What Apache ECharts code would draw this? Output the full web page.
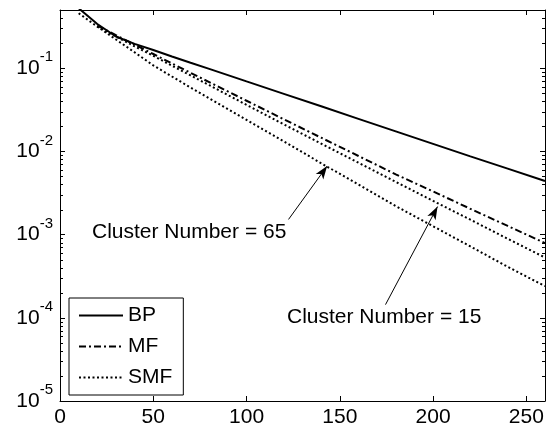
<!DOCTYPE html>
<html>
<head>
<meta charset="utf-8">
<script src="https://cdn.jsdelivr.net/npm/echarts@6/dist/echarts.min.js"></script>
<style>
  html, body { margin: 0; padding: 0; background: #fff; }
  #chart { width: 560px; height: 429px; }
</style>
</head>
<body>
<div id="chart"></div>
<script>
// values
const steps = [10, 20, 30, 40, 50, 60, 70, 80, 100, 120, 140, 160, 180, 200, 220, 240, 260];
const bp = [0.525, 0.339, 0.240, 0.196, 0.165, 0.138, 0.116, 0.098, 0.0693, 0.0491, 0.0348, 0.0246, 0.0174, 0.0123, 0.0087, 0.0062, 0.0044];
const mf = [null, 0.324, 0.249, 0.192, 0.148, 0.114, 0.0879, 0.0679, 0.0406, 0.0243, 0.0146, 0.0088, 0.0053, 0.0033, 0.00204, 0.00127, 0.00079];
const smf15 = [null, 0.316, 0.240, 0.183, 0.141, 0.107, 0.0818, 0.0624, 0.0362, 0.0211, 0.0124, 0.0073, 0.0043, 0.00254, 0.00151, 0.00089, 0.00053];
const smf65 = [0.457, 0.316, 0.221, 0.155, 0.108, 0.0794, 0.0585, 0.0434, 0.0239, 0.0132, 0.0072, 0.0040, 0.0022, 0.00126, 0.00072, 0.00041, 0.00024];

const xTicks = [0, 50, 100, 150, 200, 250];
const decades = [-5, -4, -3, -2, -1];
const minorMantissas = [2, 3, 4, 5, 6, 7, 8, 9];

// annotation arrows, [from, to] in data units
const arrow65 = [[122.5, 1.52e-3], [143.2, 6.65e-3]];
const arrow15 = [[174.5, 1.44e-4], [202.4, 2.17e-3]];

const xMin = 0, xMax = 260, yMin = 1e-5, yMax = 0.5;
const font = 'Arial, "Liberation Sans", Helvetica, sans-serif';

function pairs(ys) {
  return steps.map((x, i) => [x, ys[i]]).filter(p => p[1] != null);
}

const chart = echarts.init(document.getElementById('chart'));

function axisCommon() {
  return {
    axisLine: { show: true, onZero: false, lineStyle: { color: '#000', width: 1 } },
    axisTick: { show: true, inside: true, length: 5, lineStyle: { color: '#000', width: 1 } },
    splitLine: { show: false }
  };
}

function arrowLine(a) {
  return [
    { coord: a[0], symbol: 'none' },
    { coord: a[1], symbol: 'arrow', symbolSize: [7, 13] }
  ];
}

function lineSeries(name, ys, type) {
  return {
    name: name, type: 'line', data: pairs(ys),
    symbol: 'none', showSymbol: false,
    itemStyle: { color: '#000' },
    lineStyle: { color: '#000', width: 2, type: type }
  };
}

const bpSeries = lineSeries('BP', bp, 'solid');
bpSeries.markLine = {
  silent: true, animation: false,
  label: { show: false },
  lineStyle: { color: '#000', width: 1, type: 'solid' },
  data: [arrowLine(arrow65), arrowLine(arrow15)]
};

chart.setOption({
  animation: false,
  backgroundColor: '#fff',
  textStyle: { fontFamily: font },
  grid: { left: 60, right: 15, top: 10, bottom: 28 },
  legend: {
    data: ['BP', 'MF', 'SMF'],
    orient: 'vertical',
    left: 69,
    top: 298,
    padding: [7, 11, 7, 9],
    itemWidth: 44,
    itemHeight: 14,
    itemGap: 10,
    itemStyle: { opacity: 0 },
    backgroundColor: '#fff',
    borderColor: '#000',
    borderWidth: 1,
    borderRadius: 0,
    textStyle: { fontSize: 21, color: '#000', fontFamily: font }
  },
  xAxis: [
    Object.assign({
      type: 'value', position: 'bottom', min: xMin, max: xMax, interval: 50,
      axisLabel: {
        fontSize: 21, color: '#000', margin: 6, fontFamily: font,
        formatter: v => (xTicks.indexOf(v) >= 0 ? String(v) : '')
      }
    }, axisCommon()),
    Object.assign({
      type: 'value', position: 'top', min: xMin, max: xMax, interval: 50,
      axisLabel: { show: false }
    }, axisCommon())
  ],
  yAxis: [
    Object.assign({
      type: 'log', logBase: 10, position: 'left', min: yMin, max: yMax,
      axisLabel: {
        color: '#000', margin: 7, fontFamily: font,
        formatter: function (v) {
          const l = Math.log10(v);
          const e = Math.round(l);
          if (Math.abs(l - e) > 1e-6 || decades.indexOf(e) < 0) return '';
          return '{b|10}{s|' + e + '}';
        },
        rich: {
          b: { fontSize: 21, color: '#000', fontFamily: font },
          s: { fontSize: 15, color: '#000', fontFamily: font, padding: [0, 0, 22, 0] }
        }
      }
    }, axisCommon()),
    Object.assign({
      type: 'log', logBase: 10, position: 'right', min: yMin, max: yMax,
      axisLabel: { show: false }
    }, axisCommon())
  ],
  series: [
    bpSeries,
    lineSeries('MF', mf, [7, 3, 2, 3]),
    lineSeries('SMF', smf15, [2, 2.5]),
    lineSeries('SMF', smf65, [2, 2.5])
  ]
});

// minor ticks of the log axis (both sides) and the two text notes,
// placed through the chart's own scales
const leftX = chart.convertToPixel({ gridIndex: 0 }, [xMin, yMin])[0];
const rightX = chart.convertToPixel({ gridIndex: 0 }, [xMax, yMin])[0];
const graphics = [];
decades.forEach(e => {
  minorMantissas.forEach(m => {
    const v = m * Math.pow(10, e);
    if (v >= yMax) return;
    const y = Math.round(chart.convertToPixel({ gridIndex: 0 }, [xMin, v])[1]);
    graphics.push({ type: 'rect', z: 100, silent: true, shape: { x: leftX, y: y, width: 3, height: 1 }, style: { fill: '#000' } });
    graphics.push({ type: 'rect', z: 100, silent: true, shape: { x: rightX - 3, y: y, width: 3, height: 1 }, style: { fill: '#000' } });
  });
});
graphics.push(
  { type: 'text', left: 92, top: 222, style: { text: 'Cluster Number = 65', fontSize: 21, fill: '#000', fontFamily: font } },
  { type: 'text', left: 287, top: 307, style: { text: 'Cluster Number = 15', fontSize: 21, fill: '#000', fontFamily: font } }
);
chart.setOption({ graphic: graphics });
</script>
</body>
</html>
